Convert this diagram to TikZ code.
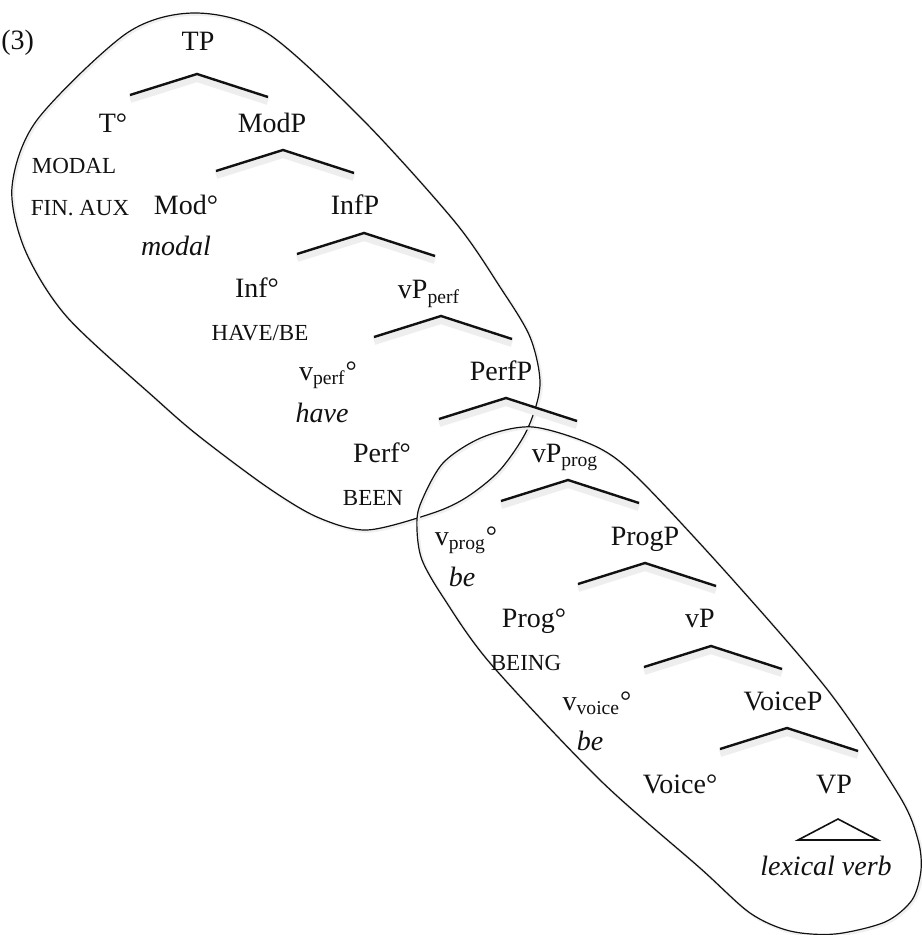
\documentclass[tikz,border=0pt]{standalone}
\usepackage{fontspec}
\setmainfont{Liberation Serif}
\usepackage{xcolor}
\usepackage{tikz}
\usetikzlibrary{calc}
\definecolor{ink}{HTML}{111111}
\definecolor{shade}{HTML}{EEEEEE}
\newcommand{\catfont}{\fontsize{14}{16}\selectfont}
\newcommand{\featfont}{\fontsize{11.5}{13}\selectfont}
\newcommand{\lexfont}{\fontsize{14}{16}\selectfont\itshape}
\tikzset{
  cat/.style={font=\catfont,anchor=base,inner sep=0pt,text=ink},
  feat/.style={font=\featfont,anchor=base,inner sep=0pt,text=ink},
  lex/.style={font=\lexfont,anchor=base,inner sep=0pt,text=ink},
  branch/.style={line width=1.2pt,color=ink,
    preaction={draw=shade,line width=4pt,transform canvas={yshift=-2pt}}},
  tri/.style={line width=.8pt,color=ink},
  zone/.style={line width=.6pt,color=ink,
    preaction={draw=black!6,line width=1.4pt,transform canvas={shift={(.7pt,-.7pt)}}}},
}
% mother node, apex offset
\newcommand{\branchunder}[2]{\draw[branch] ($(#1.base)+#2$) ++(-67,21) -- ++(67,-21) -- ++(71,23);}

\begin{document}
\begin{tikzpicture}[x=.5pt,y=-.5pt]
  \useasboundingbox (0,0) rectangle (921,935);

  % domains
  \draw[zone] plot[smooth cycle] coordinates {(195,13) (267,33) (363,120) (455,222) (500,287) (530,337) (540,385) (527,430) (500,470) (467,497) (433,513) (367,530) (317,517) (267,487) (200,437) (157,400) (67,317) (25,250) (12,187) (37,120) (127,33)};
  \draw[zone] plot[smooth cycle] coordinates {(533,427) (597,447) (640,480) (733,580) (830,693) (900,797) (918,840) (921,870) (912,900) (885,922) (835,934) (790,931) (750,913) (700,868) (600,780) (490,663) (443,597) (422,560) (417,530) (420,505) (443,463) (483,437)};

  \node[cat,anchor=base west] (exnum) at (1,50) {(3)};

  % spine
  \node[cat] (tp) at (198,51) {TP};
  \node[cat] (t) at (113,133) {T°};
  \node[cat] (modp) at (272,133) {ModP};
  \node[feat] (tmodal) at (74,174) {MODAL};
  \node[feat] (tfin) at (80,216) {FIN. AUX};
  \node[cat] (mod) at (186,215) {Mod°};
  \node[cat] (infp) at (355,215) {InfP};
  \node[lex] (modlex) at (176,256) {modal};
  \node[cat] (inf) at (257,298) {Inf°};
  \node[cat] (vpperf) at (429,299) {vP\textsubscript{perf}};
  \node[feat] (infhb) at (260,340) {HAVE/BE};
  \node[cat] (vperf) at (328,380) {v\textsubscript{perf}°};
  \node[cat] (perfp) at (501,380) {PerfP};
  \node[lex] (havelex) at (322,422) {have};
  \node[cat] (perf) at (382,462) {Perf°};
  \node[cat] (vpprog) at (565,462) {vP\textsubscript{prog}};
  \node[feat] (been) at (373,505) {BEEN};
  \node[cat] (vprog) at (466,545) {v\textsubscript{prog}°};
  \node[cat] (progp) at (645,545) {ProgP};
  \node[lex] (belex) at (462,586) {be};
  \node[cat] (prog) at (534,627) {Prog°};
  \node[cat] (vp) at (700,627) {vP};
  \node[feat] (being) at (526,670) {BEING};
  \node[cat] (vvoice) at (597,710) {v\textsubscript{voice}°};
  \node[cat] (voicep) at (783,710) {VoiceP};
  \node[lex] (bevoice) at (590,750) {be};
  \node[cat] (voice) at (680,793) {Voice°};
  \node[cat] (vbig) at (834,793) {VP};
  \node[lex] (lexverb) at (826,875) {lexical verb};

  % branches
  \branchunder{tp}{(-1,23)}
  \branchunder{modp}{(11,17)}
  \branchunder{infp}{(9,18)}
  \branchunder{vpperf}{(12,17)}
  \branchunder{perfp}{(5,18)}
  \branchunder{vpprog}{(3,18)}
  \branchunder{progp}{(0,18)}
  \branchunder{vp}{(11,19)}
  \branchunder{voicep}{(4,18)}
  \draw[tri] ($(vbig.base)+(4,26)$) -- ++(-40,21) -- ++(80,0) -- cycle;
\end{tikzpicture}
\end{document}
